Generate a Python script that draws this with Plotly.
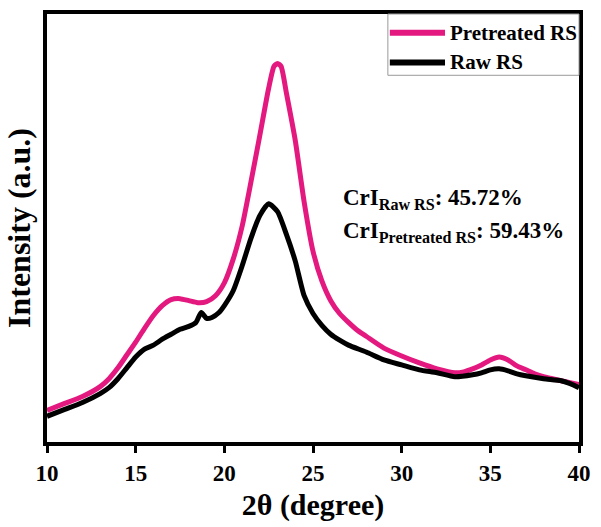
import plotly.graph_objects as go

# 2theta positions and intensities (a.u.)
two_theta_pre = [10.0, 11.0, 12.0, 13.0, 13.5, 14.0, 14.5, 15.0, 15.5, 16.0, 16.5, 17.0, 17.5,
                 18.0, 18.5, 19.0, 19.5, 20.0, 20.5, 21.0, 21.5, 22.0, 22.5, 22.8, 23.0, 23.2,
                 23.5, 24.0, 24.5, 25.0, 25.5, 26.0, 26.5, 27.0, 27.5, 28.0, 29.0, 30.0, 31.0,
                 32.0, 33.0, 33.5, 34.0, 34.5, 35.0, 35.5, 36.0, 36.5, 37.0, 37.5, 38.0, 38.5,
                 39.0, 39.5, 40.0]
pretreated_rs = [33, 40, 47, 57, 65, 76, 89, 102, 116, 129, 139, 145, 146,
                 144, 142, 143, 149, 162, 186, 219, 264, 311, 359, 381, 384, 381,
                 354, 306, 244, 194, 164, 144, 131, 122, 114, 108, 96, 88, 81,
                 75, 71, 72, 75, 79, 84, 87, 84, 78, 74, 70, 67, 65,
                 63, 61, 59]

two_theta_raw = [10.0, 11.0, 12.0, 13.0, 13.5, 14.0, 14.5, 15.0, 15.5, 16.0, 16.5, 17.0, 17.5,
                 18.0, 18.4, 18.7, 19.0, 19.3, 19.7, 20.0, 20.5, 21.0, 21.5, 22.0, 22.5, 23.0,
                 23.5, 24.0, 24.5, 25.0, 25.5, 26.0, 26.5, 27.0, 28.0, 29.0, 30.0, 31.0, 32.0,
                 33.0, 34.0, 34.5, 35.0, 35.5, 36.0, 36.5, 37.0, 38.0, 39.0, 39.5, 40.0]
raw_rs = [27, 34, 41, 50, 56, 65, 76, 87, 95, 99, 105, 110, 115,
          118, 122, 132, 126, 127, 132, 139, 154, 179, 207, 230, 242, 234,
          211, 184, 149, 131, 119, 110, 104, 99, 92, 84, 79, 74, 71,
          67, 69, 71, 74, 75, 73, 70, 68, 65, 63, 60, 56]

x_ticks = [10, 15, 20, 25, 30, 35, 40]
series_names = ["Pretreated RS", "Raw RS"]
crystallinity = {"Raw RS": "45.72%", "Pretreated RS": "59.43%"}

PINK = "#E3197F"
SERIF = "Liberation Serif"
W, H = 601, 527
ML, MR, MT, MB = 47, 14, 10, 84
X0, X1, Y0, Y1 = ML, W - MR, MT, H - MB
BASE = 444  # pixel row used as the intensity zero when reading values


def px(xp):
    return (xp - X0) / (X1 - X0)


def py(yp):
    return (Y1 - yp) / (Y1 - Y0)


fig = go.Figure()
fig.add_trace(go.Scatter(x=two_theta_pre, y=pretreated_rs, mode="lines", name=series_names[0],
                         showlegend=False,
                         line=dict(color=PINK, width=5, shape="spline", smoothing=0.6)))
fig.add_trace(go.Scatter(x=two_theta_raw, y=raw_rs, mode="lines", name=series_names[1],
                         showlegend=False,
                         line=dict(color="black", width=5, shape="spline", smoothing=0.6)))

fig.update_layout(
    width=W, height=H,
    margin=dict(l=ML, r=MR, t=MT, b=MB),
    paper_bgcolor="white", plot_bgcolor="white",
    xaxis=dict(range=[10, 40], tickvals=x_ticks, ticktext=[str(t) for t in x_ticks],
               showgrid=False, zeroline=False, showline=True, linecolor="black", linewidth=4,
               mirror=True, ticks="outside", ticklen=7, tickwidth=3, tickcolor="black",
               tickfont=dict(family=SERIF, size=23, color="black", weight="bold"),
               title=dict(text="2θ (degree)", standoff=10,
                          font=dict(family=SERIF, size=30, color="black", weight="bold"))),
    yaxis=dict(range=[BASE - Y1, BASE - Y0], showgrid=False, zeroline=False,
               showline=True, linecolor="black",
               linewidth=4, mirror=True, showticklabels=False, ticks="",
               title=dict(text="Intensity (a.u.)", standoff=4,
                          font=dict(family=SERIF, size=32, color="black", weight="bold"))),
)

# legend box (manual, to match the reference's long line samples)
fig.add_shape(type="rect", xref="paper", yref="paper", x0=px(393), x1=1, y0=py(72), y1=1,
              line=dict(color="#9a9a9a", width=1), fillcolor="white", layer="above")
legend_rows = [(series_names[0], PINK, 29), (series_names[1], "black", 59)]
for name, color, yy in legend_rows:
    fig.add_shape(type="line", xref="paper", yref="paper", x0=px(395), x1=px(451),
                  y0=py(yy), y1=py(yy), line=dict(color=color, width=6), layer="above")
    fig.add_annotation(xref="paper", yref="paper", x=px(454), y=py(yy), xanchor="left",
                       yanchor="middle", text=name, showarrow=False,
                       font=dict(family=SERIF, size=21, color="black", weight="bold"))

fig.add_annotation(xref="paper", yref="paper", x=px(345), y=py(197), xanchor="left", yanchor="middle",
                   text=f"CrI<sub>Raw RS</sub>: {crystallinity['Raw RS']}", showarrow=False,
                   font=dict(family=SERIF, size=23, color="black", weight="bold"))
fig.add_annotation(xref="paper", yref="paper", x=px(345), y=py(231), xanchor="left", yanchor="middle",
                   text=f"CrI<sub>Pretreated RS</sub>: {crystallinity['Pretreated RS']}", showarrow=False,
                   font=dict(family=SERIF, size=23, color="black", weight="bold"))

fig.write_html("out.html")
